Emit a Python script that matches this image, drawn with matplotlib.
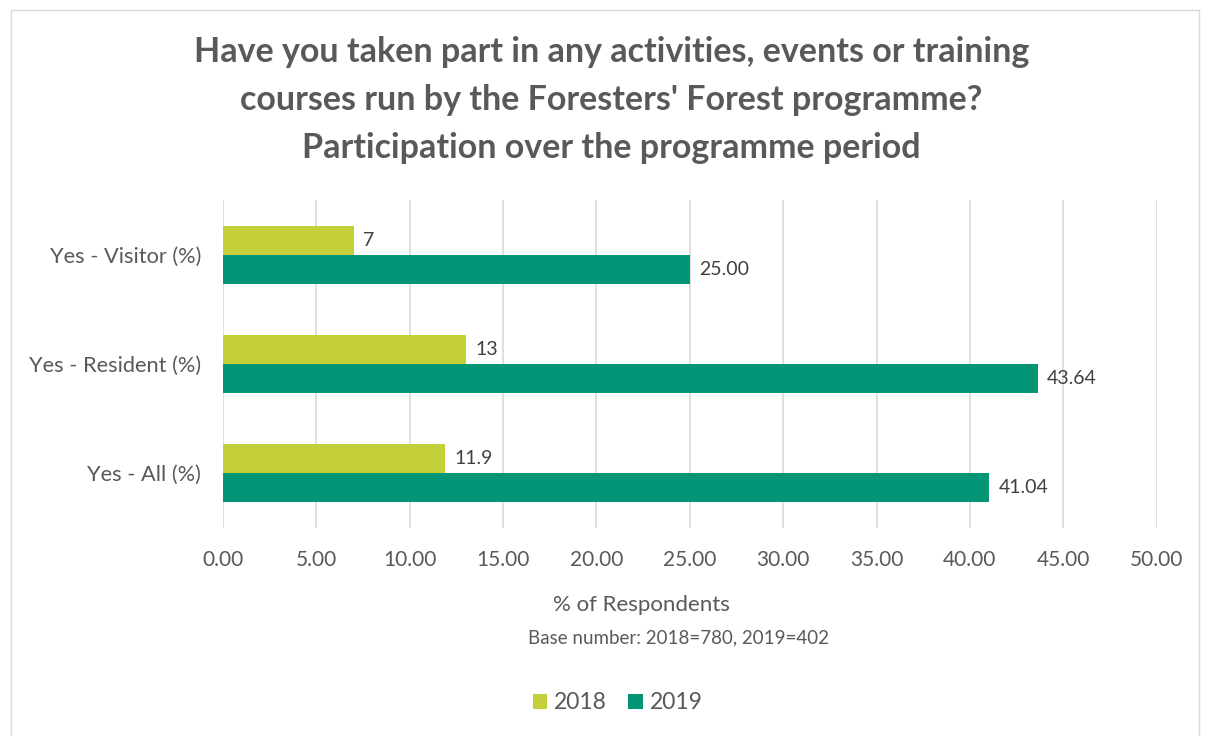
import matplotlib.pyplot as plt
import numpy as np
from matplotlib.patches import Rectangle

categories = ['Yes - All (%)', 'Yes - Resident (%)', 'Yes - Visitor (%)']
vals_2018 = [11.9, 13, 7]
vals_2019 = [41.04, 43.64, 25.00]
labels_2018 = ['11.9', '13', '7']
labels_2019 = ['41.04', '43.64', '25.00']
series_names = ['2018', '2019']
xticks = np.arange(0, 55, 5)

plt.rcParams['font.family'] = ['Lato', 'DejaVu Sans']
c18 = '#C3D03A'
c19 = '#039575'
txt = '#595959'

fig = plt.figure(figsize=(12.06, 7.36), dpi=100)
ax = fig.add_axes([0.185, 0.283, 0.774, 0.445])

y = np.arange(len(categories))
h = 0.266
b18 = ax.barh(y + h / 2, vals_2018, height=h, color=c18, label=series_names[0], zorder=3)
b19 = ax.barh(y - h / 2, vals_2019, height=h, color=c19, label=series_names[1], zorder=3)

for bars, labs in [(b18, labels_2018), (b19, labels_2019)]:
    for bar, lab in zip(bars, labs):
        ax.text(bar.get_width() + 0.5, bar.get_y() + bar.get_height() / 2, lab,
                va='center', ha='left', fontsize=14, color='#404040')

ax.set_xlim(0, 50)
ax.set_ylim(-0.5, 2.5)
ax.set_xticks(xticks)
ax.set_xticklabels(['%.2f' % t for t in xticks])
ax.set_yticks(y)
ax.set_yticklabels(categories)
ax.tick_params(axis='x', length=0, labelsize=15, labelcolor=txt, pad=16)
ax.tick_params(axis='y', length=0, labelsize=15.7, labelcolor=txt, pad=16)
ax.grid(axis='x', color='#D9D9D9', linewidth=1.2, zorder=0)
for s in ax.spines.values():
    s.set_visible(False)

fig.text(0.507, 0.864, "Have you taken part in any activities, events or training\n"
         "courses run by the Foresters' Forest programme?\n"
         "Participation over the programme period",
         ha='center', va='center', fontsize=24.5, fontweight='bold', color=txt,
         linespacing=1.6)
fig.text(0.532, 0.178, '% of Respondents', ha='center', va='center', fontsize=16, color=txt)
fig.text(0.563, 0.134, 'Base number: 2018=780, 2019=402', ha='center', va='center',
         fontsize=13.5, color=txt)

fig.legend(handles=[b18, b19], loc='center', bbox_to_anchor=(0.512, 0.045), ncol=2,
           frameon=False, fontsize=16.5, labelcolor=txt, handlelength=0.65,
           handleheight=0.65, handletextpad=0.3, columnspacing=0.9)

fig.patches.append(Rectangle((0.009, -0.01), 0.985, 0.997, transform=fig.transFigure,
                             fill=False, edgecolor='#D9D9D9', linewidth=1))

fig.savefig('out.png', dpi=100)
